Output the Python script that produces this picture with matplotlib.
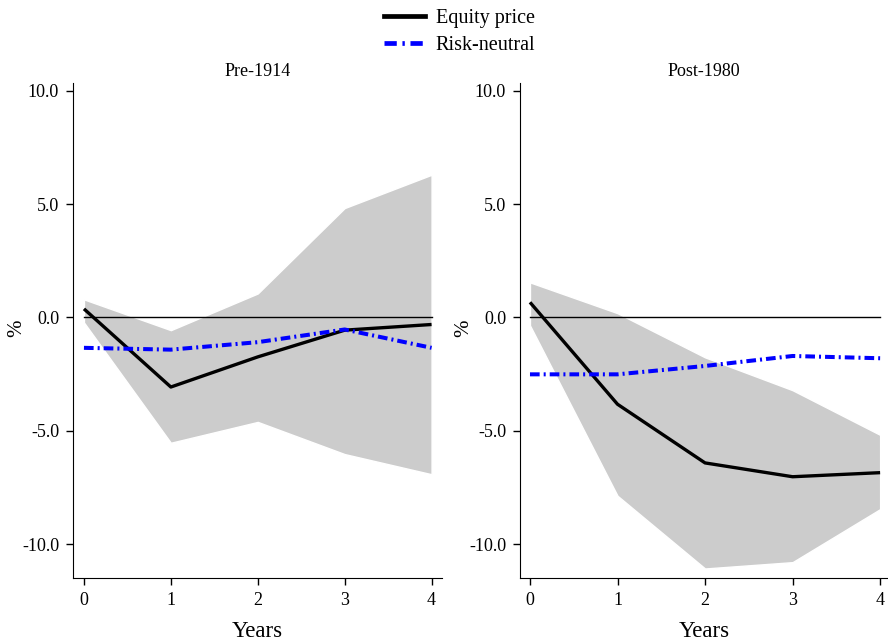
import matplotlib
matplotlib.use("Agg")
import matplotlib.pyplot as plt
import numpy as np
from matplotlib.lines import Line2D

plt.rcParams['font.family'] = ['Liberation Serif', 'DejaVu Serif']

years = [0, 1, 2, 3, 4]
year_labels = ["0", "1", "2", "3", "4"]
panel_titles = ["Pre-1914", "Post-1980"]

pre_equity = [0.38, -3.07, -1.74, -0.56, -0.31]
pre_riskneutral = [-1.34, -1.42, -1.09, -0.53, -1.34]
pre_upper = [0.80, -0.56, 1.06, 4.83, 6.30]
pre_lower = [-0.22, -5.53, -4.61, -6.03, -6.92]

post_equity = [0.67, -3.83, -6.42, -7.03, -6.85]
post_riskneutral = [-2.51, -2.51, -2.14, -1.70, -1.80]
post_upper = [1.55, 0.19, -1.76, -3.21, -5.18]
post_lower = [-0.35, -7.87, -11.08, -10.80, -8.46]

yticks = [-10.0, -5.0, 0.0, 5.0, 10.0]
ytick_labels = ["-10.0", "-5.0", "0.0", "5.0", "10.0"]

W, H = 888, 644
fig = plt.figure(figsize=(W / 100, H / 100), dpi=100)

def frac(x0, x1, y_top, y_bot):
    return [x0 / W, 1 - y_bot / H, (x1 - x0) / W, (y_bot - y_top) / H]

ax1 = fig.add_axes(frac(73, 442, 83, 578))
ax2 = fig.add_axes(frac(520, 888, 83, 578))

dash = (0, (2.4, 1.0, 0.5, 1.0))
panels = [
    (ax1, pre_equity, pre_riskneutral, pre_upper, pre_lower, (-0.126, 4.12)),
    (ax2, post_equity, post_riskneutral, post_upper, post_lower, (-0.114, 4.09)),
]
for i, (ax, eq, rn, up, lo, xl) in enumerate(panels):
    ax.fill_between(years, lo, up, facecolor='#cccccc', edgecolor='white', linewidth=1.0, zorder=1)
    ax.plot(years, [0] * len(years), color='black', linewidth=1.0, zorder=2)
    ax.plot(years, eq, color='black', linewidth=2.4, zorder=3, solid_capstyle='butt')
    ax.plot(years, rn, color='blue', linewidth=2.9, linestyle=dash, zorder=4)
    ax.set_xlim(*xl)
    ax.set_ylim(-11.5, 10.35)
    ax.set_xticks(years)
    ax.set_xticklabels(year_labels)
    ax.set_yticks(yticks)
    ax.set_yticklabels(ytick_labels)
    for s in ['top', 'right']:
        ax.spines[s].set_visible(False)
    ax.tick_params(direction='out', length=5, width=1, labelsize=13, pad=5)
    ax.set_title(panel_titles[i], fontsize=13, pad=5)
    ax.set_xlabel('Years', fontsize=16.5, labelpad=9)
    ax.set_ylabel('%', fontsize=15)
    ax.yaxis.set_label_coords(-0.128, 0.505)

h1 = Line2D([], [], color='black', linewidth=3.4)
h2 = Line2D([], [], color='blue', linewidth=3.4, linestyle=(0, (2.6, 1.2, 0.5, 1.2)))
fig.legend([h1, h2], ['Equity price', 'Risk-neutral'], loc='upper center',
           bbox_to_anchor=(0.518, 1.015), frameon=False, fontsize=14.5,
           handlelength=2.0, handletextpad=0.55, labelspacing=0.42)

fig.savefig('out.png', dpi=100)
